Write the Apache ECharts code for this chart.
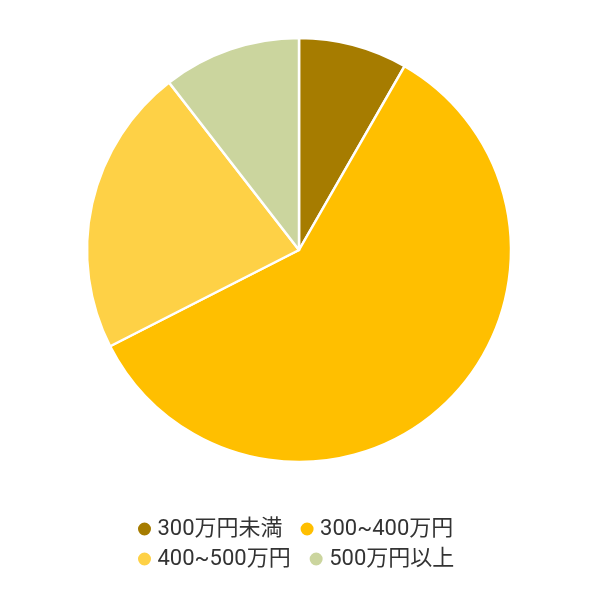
<!DOCTYPE html>
<html lang="ja">

<head>
  <meta charset="UTF-8">
  <title>年収分布</title>
  <script src="https://cdn.jsdelivr.net/npm/echarts@6/dist/echarts.min.js"></script>
</head>

<body style="margin:0;background:#ffffff;">
  <div id="main" style="width:600px;height:600px;"></div>
  <script type="text/javascript">
    // 区分と割合(%)
    var categories = ["300万円未満", "300~400万円", "400~500万円", "500万円以上"];
    var values = [8.3, 59.2, 22.0, 10.5];
    var colors = ["#a67c00", "#ffbf00", "#fed146", "#cbd59e"];

    var pieData = [];
    for (var i = 0; i < categories.length; i++) {
      pieData.push({ name: categories[i], value: values[i], itemStyle: { color: colors[i] } });
    }

    // 凡例は2行に分けて置く
    function makeLegend(top, gap, names) {
      return {
        left: 131,
        top: top,
        icon: 'circle',
        itemWidth: 16,
        itemHeight: 15,
        itemGap: gap,
        textStyle: {
          fontSize: 22,
          color: '#333333',
          fontFamily: 'Roboto, "Noto Sans CJK JP", sans-serif'
        },
        data: names
      };
    }

    var myChart = echarts.init(document.getElementById('main'));
    var option = {
      animation: false,
      legend: [
        makeLegend(513, 16, categories.slice(0, 2)),
        makeLegend(543, 17, categories.slice(2, 4))
      ],
      series: [
        {
          type: 'pie',
          center: [299, 250],
          radius: 212,
          startAngle: 90,
          clockwise: true,
          label: { show: false },
          labelLine: { show: false },
          itemStyle: {
            borderColor: '#ffffff',
            borderWidth: 2.5
          },
          emphasis: { scale: false },
          data: pieData
        }
      ]
    };
    myChart.setOption(option);
  </script>
</body>

</html>
